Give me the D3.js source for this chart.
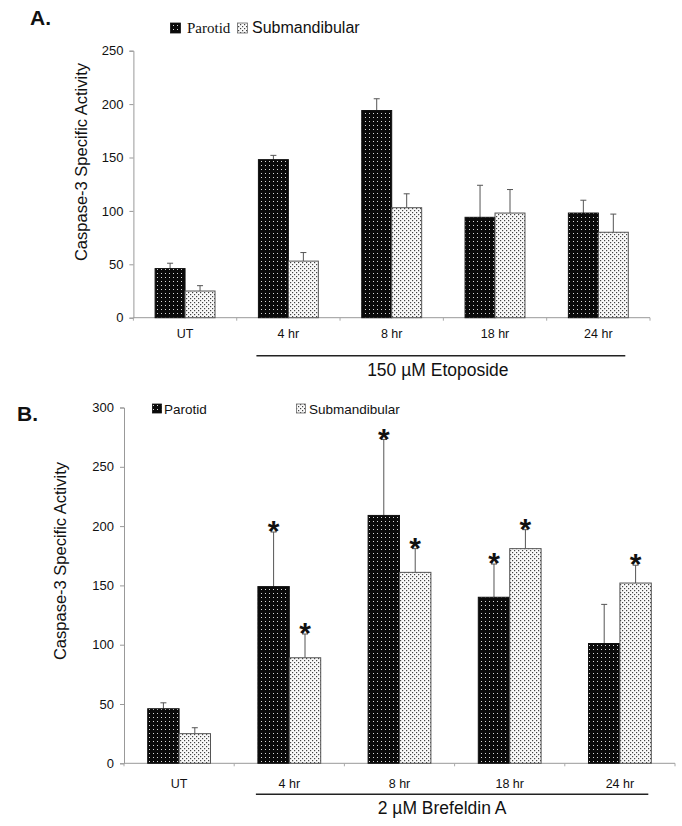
<!DOCTYPE html>
<html>
<head>
<meta charset="utf-8">
<script src="https://cdn.jsdelivr.net/npm/d3@7"></script>
<style>
  html, body { margin: 0; padding: 0; background: #fff; }
  svg { display: block; }
  text { font-family: "Liberation Sans", Arial, sans-serif; fill: #111; }
</style>
</head>
<body>
<svg id="chart" width="682" height="826"></svg>
<script>
// ---------- data ----------
const categories = ["UT", "4 hr", "8 hr", "18 hr", "24 hr"];
const seriesNames = ["Parotid", "Submandibular"];

// Panel A: 150 µM Etoposide
const etoParotid    = [46, 148, 194, 94, 98];
const etoParotidErr = [5, 4, 11, 30, 12];
const etoSub        = [25, 53, 103, 98, 80];
const etoSubErr     = [5, 8, 13, 22, 17];
const etoTicks      = [0, 50, 100, 150, 200, 250];

// Panel B: 2 µM Brefeldin A
const brefParotid    = [46, 149, 209, 140, 101];
const brefParotidErr = [5, 46, 64, 28, 33];
const brefSub        = [25, 89, 161, 181, 152];
const brefSubErr     = [5, 20, 20, 16, 15];
const brefParotidSig = [false, true, true, true, false];
const brefSubSig     = [false, true, true, true, true];
const brefTicks      = [0, 50, 100, 150, 200, 250, 300];

const treatedCats = ["4 hr", "8 hr", "18 hr", "24 hr"];

// ---------- setup ----------
const svg = d3.select("#chart");
const defs = svg.append("defs");

const pP = defs.append("pattern").attr("id", "patP").attr("patternUnits", "userSpaceOnUse")
  .attr("width", 4).attr("height", 4);
pP.append("rect").attr("width", 4).attr("height", 4).attr("fill", "#0a0a0a");
pP.append("rect").attr("x", 1).attr("y", 1).attr("width", 1).attr("height", 1).attr("fill", "#d8d8d8");

const pS = defs.append("pattern").attr("id", "patS").attr("patternUnits", "userSpaceOnUse")
  .attr("width", 4).attr("height", 4);
pS.append("rect").attr("width", 4).attr("height", 4).attr("fill", "#fafafa");
pS.append("rect").attr("x", 0).attr("y", 0).attr("width", 1.2).attr("height", 1.2).attr("fill", "#444");
pS.append("rect").attr("x", 2).attr("y", 2).attr("width", 1.2).attr("height", 1.2).attr("fill", "#444");

const fills = { Parotid: "url(#patP)", Submandibular: "url(#patS)" };
const strokes = { Parotid: "#111", Submandibular: "#555" };

function panel(cfg) {
  const g = svg.append("g");
  const y = d3.scaleLinear().domain([0, cfg.yMax]).range([cfg.y0, cfg.y1]);
  const x0 = d3.scaleBand().domain(categories).range([cfg.xL, cfg.xR])
    .paddingInner(cfg.pad).paddingOuter(cfg.pad / 2);
  const x1 = d3.scaleBand().domain(seriesNames).range([0, x0.bandwidth()]);
  const step = x0.step();

  // y axis
  const yAxis = d3.axisLeft(y).tickValues(cfg.ticks).tickSize(4).tickPadding(6);
  const ya = g.append("g").attr("transform", `translate(${cfg.xL},0)`).call(yAxis);
  ya.select(".domain").attr("stroke", "#999");
  ya.selectAll(".tick line").attr("stroke", "#999");
  ya.selectAll(".tick text").attr("font-size", 13).attr("fill", "#222")
    .attr("font-family", '"Liberation Sans", Arial, sans-serif');

  // x axis line + boundary ticks
  g.append("line").attr("x1", cfg.xL).attr("x2", cfg.xR).attr("y1", cfg.y0).attr("y2", cfg.y0)
    .attr("stroke", "#999");
  const bounds = categories.map(c => x0(c) - step * cfg.pad / 2).concat([cfg.xR]);
  g.selectAll(".xt").data(bounds).join("line")
    .attr("x1", d => d).attr("x2", d => d).attr("y1", cfg.y0).attr("y2", cfg.y0 + 3)
    .attr("stroke", "#aaa");

  // x labels
  g.selectAll(".xl").data(categories).join("text")
    .attr("x", d => x0(d) + x0.bandwidth() / 2).attr("y", cfg.y0 + cfg.labelOff)
    .attr("text-anchor", "middle").attr("font-size", 12.5).text(d => d);

  // bars
  const rows = [];
  categories.forEach((c, i) => {
    rows.push({ c, s: "Parotid", v: cfg.p[i], e: cfg.pe[i], sig: cfg.psig ? cfg.psig[i] : false });
    rows.push({ c, s: "Submandibular", v: cfg.s[i], e: cfg.se[i], sig: cfg.ssig ? cfg.ssig[i] : false });
  });
  const cx = d => x0(d.c) + x1(d.s) + x1.bandwidth() / 2;

  // error bars (upward only)
  g.selectAll(".eb").data(rows).join("line")
    .attr("x1", cx).attr("x2", cx).attr("y1", d => y(d.v)).attr("y2", d => y(d.v + d.e))
    .attr("stroke", "#555").attr("stroke-width", 1);
  g.selectAll(".ec").data(rows).join("line")
    .attr("x1", d => cx(d) - 3).attr("x2", d => cx(d) + 3)
    .attr("y1", d => y(d.v + d.e)).attr("y2", d => y(d.v + d.e))
    .attr("stroke", "#555").attr("stroke-width", 1);

  g.selectAll(".bar").data(rows).join("rect")
    .attr("x", d => x0(d.c) + x1(d.s)).attr("width", x1.bandwidth())
    .attr("y", d => y(d.v)).attr("height", d => y(0) - y(d.v))
    .attr("fill", d => fills[d.s]).attr("stroke", d => strokes[d.s]).attr("stroke-width", 1);

  // significance asterisks
  g.selectAll(".ast").data(rows.filter(d => d.sig)).join("text")
    .attr("x", cx).attr("y", d => y(d.v + d.e) + 9)
    .attr("text-anchor", "middle").attr("font-size", 30).attr("font-weight", "bold")
    .text("*");

  // treatment bracket
  const lx1 = x0(treatedCats[0]) - 2;
  const lx2 = x0(treatedCats[treatedCats.length - 1]) + x0.bandwidth() - 3;
  g.append("line").attr("x1", lx1).attr("x2", lx2).attr("y1", cfg.lineY).attr("y2", cfg.lineY)
    .attr("stroke", "#222").attr("stroke-width", 1.5);
  g.append("text").attr("x", (lx1 + lx2) / 2 + cfg.treatDx).attr("y", cfg.treatY)
    .attr("text-anchor", "middle").attr("font-size", 17.5).text(cfg.treat);

  // y label
  g.append("text").attr("transform", `translate(${cfg.ylabX},${cfg.ylabY}) rotate(-90)`)
    .attr("text-anchor", "middle").attr("font-size", 16.5).text("Caspase-3 Specific Activity");

  // panel letter
  g.append("text").attr("x", cfg.letterX).attr("y", cfg.letterY).attr("font-size", 21)
    .attr("font-weight", "bold").text(cfg.letter);
  return g;
}

panel({
  letter: "A.", letterX: 30, letterY: 25,
  yMax: 250, y0: 317.7, y1: 50.7, xL: 133.4, xR: 650, pad: 0.42,
  ticks: etoTicks, p: etoParotid, pe: etoParotidErr, s: etoSub, se: etoSubErr,
  labelOff: 20.6, lineY: 355.7, treatY: 376, treatDx: -3,
  treat: "150 \u00b5M Etoposide", ylabX: 87, ylabY: 162
});

panel({
  letter: "B.", letterX: 17, letterY: 421,
  yMax: 300, y0: 763.3, y1: 407.5, xL: 124, xR: 675, pad: 0.43,
  ticks: brefTicks, p: brefParotid, pe: brefParotidErr, s: brefSub, se: brefSubErr,
  psig: brefParotidSig, ssig: brefSubSig,
  labelOff: 24.4, lineY: 794.3, treatY: 814.3, treatDx: -10,
  treat: "2 \u00b5M Brefeldin A", ylabX: 66, ylabY: 561
});

// legends
function swatch(x, yTop, size, s) {
  svg.append("rect").attr("x", x).attr("y", yTop).attr("width", size).attr("height", size)
    .attr("fill", fills[s]).attr("stroke", s === "Parotid" ? "#111" : "#666").attr("stroke-width", 0.8);
}
// Legend A
swatch(170.5, 23, 10, "Parotid");
svg.append("text").attr("x", 187).attr("y", 33).attr("font-size", 15)
  .style("font-family", '"Liberation Serif", "Times New Roman", serif')
  .text(seriesNames[0]);
swatch(237.5, 23, 10, "Submandibular");
svg.append("text").attr("x", 252).attr("y", 33).attr("font-size", 16).text(seriesNames[1]);

// Legend B
swatch(152.5, 404, 9, "Parotid");
svg.append("text").attr("x", 164).attr("y", 413.5).attr("font-size", 13.5).text(seriesNames[0]);
swatch(296.5, 404, 9, "Submandibular");
svg.append("text").attr("x", 309).attr("y", 413.5).attr("font-size", 13.5).text(seriesNames[1]);
</script>
</body>
</html>
